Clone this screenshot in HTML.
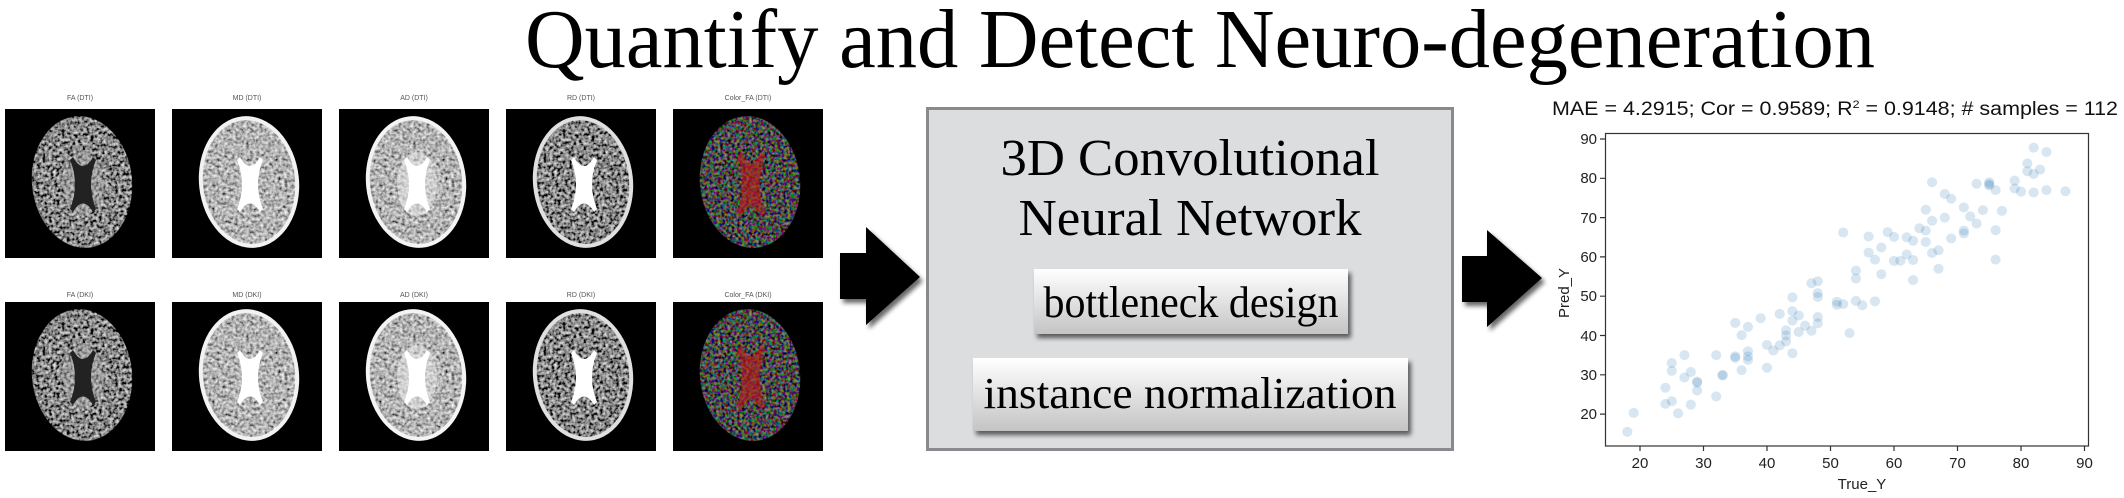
<!DOCTYPE html>
<html><head><meta charset="utf-8"><style>
html,body{margin:0;padding:0;background:#fff;width:2124px;height:498px;overflow:hidden}
svg{display:block}
</style></head><body>
<svg width="2124" height="498" viewBox="0 0 2124 498" xmlns="http://www.w3.org/2000/svg">
<defs>
<filter id="gn" x="0" y="0" width="100%" height="100%">
<feTurbulence type="fractalNoise" baseFrequency="0.32" numOctaves="2" seed="4"/>
<feColorMatrix type="saturate" values="0"/>
<feComponentTransfer><feFuncR type="linear" slope="1.8" intercept="-0.45"/><feFuncG type="linear" slope="1.8" intercept="-0.45"/><feFuncB type="linear" slope="1.8" intercept="-0.45"/><feFuncA type="linear" slope="0" intercept="1"/></feComponentTransfer>
<feComposite in2="SourceGraphic" operator="in"/>
</filter>
<filter id="gd" x="0" y="0" width="100%" height="100%">
<feTurbulence type="fractalNoise" baseFrequency="0.32" numOctaves="2" seed="9"/>
<feColorMatrix type="saturate" values="0"/>
<feComponentTransfer><feFuncR type="linear" slope="2" intercept="-0.75"/><feFuncG type="linear" slope="2" intercept="-0.75"/><feFuncB type="linear" slope="2" intercept="-0.75"/><feFuncA type="linear" slope="0" intercept="1"/></feComponentTransfer>
<feComposite in2="SourceGraphic" operator="in"/>
</filter>
<filter id="cn" x="0" y="0" width="100%" height="100%">
<feTurbulence type="fractalNoise" baseFrequency="0.35" numOctaves="2" seed="7"/>
<feComponentTransfer><feFuncR type="linear" slope="2.2" intercept="-0.9"/><feFuncG type="linear" slope="2.2" intercept="-0.9"/><feFuncB type="linear" slope="2.2" intercept="-0.9"/><feFuncA type="linear" slope="0" intercept="1"/></feComponentTransfer>
<feComposite in2="SourceGraphic" operator="in"/>
</filter>
<filter id="sh" x="-20%" y="-20%" width="150%" height="150%">
<feGaussianBlur in="SourceAlpha" stdDeviation="2.5"/><feOffset dx="3" dy="4"/>
<feComponentTransfer><feFuncA type="linear" slope="0.6"/></feComponentTransfer>
<feMerge><feMergeNode/><feMergeNode in="SourceGraphic"/></feMerge>
</filter>
<linearGradient id="btn" x1="0" y1="0" x2="0" y2="1">
<stop offset="0" stop-color="#ffffff"/><stop offset="1" stop-color="#c4c4c4"/>
</linearGradient>
<path id="vx" d="M68,48 Q78,66 88,48 L91,51 Q81,75 91,100 L88,103 Q78,86 68,103 L65,100 Q75,75 65,51 Z"/>
<g id="bFA"><rect width="150" height="149" fill="#000"/>
<ellipse cx="77" cy="73" rx="50" ry="66" fill="#888" filter="url(#gd)" transform="rotate(-6 77 73)"/>
<ellipse cx="78" cy="75" rx="20" ry="32" fill="#bbb" opacity="0.45"/>
<use href="#vx" fill="#222"/></g>
<g id="bMD"><rect width="150" height="149" fill="#000"/>
<ellipse cx="77" cy="73" rx="50" ry="66" fill="#f2f2f2" transform="rotate(-6 77 73)"/>
<ellipse cx="77" cy="73" rx="46" ry="62" fill="#777" filter="url(#gn)" transform="rotate(-6 77 73)"/>
<use href="#vx" fill="#fff"/></g>
<g id="bAD"><rect width="150" height="149" fill="#000"/>
<ellipse cx="77" cy="73" rx="50" ry="66" fill="#f4f4f4" transform="rotate(-6 77 73)"/>
<ellipse cx="77" cy="73" rx="46" ry="62" fill="#999" filter="url(#gn)" transform="rotate(-6 77 73)"/>
<ellipse cx="78" cy="75" rx="20" ry="32" fill="#eee" opacity="0.5"/>
<use href="#vx" fill="#fff"/></g>
<g id="bRD"><rect width="150" height="149" fill="#000"/>
<ellipse cx="77" cy="73" rx="50" ry="66" fill="#e0e0e0" transform="rotate(-6 77 73)"/>
<ellipse cx="77" cy="73" rx="46" ry="62" fill="#666" filter="url(#gd)" transform="rotate(-6 77 73)"/>
<use href="#vx" fill="#fff"/></g>
<g id="bCF"><rect width="150" height="149" fill="#000"/>
<ellipse cx="77" cy="73" rx="50" ry="66" fill="#888" filter="url(#cn)" transform="rotate(-6 77 73)"/>
<ellipse cx="77" cy="73" rx="50" ry="66" fill="#000" opacity="0.35" transform="rotate(-6 77 73)"/>
<path d="M68,42 Q78,66 88,42 L92,47 Q82,75 92,104 L88,108 Q78,86 68,108 L64,104 Q74,75 64,47 Z" fill="#c01818" opacity="0.6"/></g>
</defs>

<text x="525" y="67" font-family="'Liberation Serif',serif" font-size="84" textLength="1350" lengthAdjust="spacingAndGlyphs" fill="#000">Quantify and Detect Neuro-degeneration</text>

<g font-family="'Liberation Sans',sans-serif" font-size="7" fill="#555" text-anchor="middle">
<text x="80" y="100">FA (DTI)</text><text x="247" y="100">MD (DTI)</text><text x="414" y="100">AD (DTI)</text><text x="581" y="100">RD (DTI)</text><text x="748" y="100">Color_FA (DTI)</text>
<text x="80" y="297">FA (DKI)</text><text x="247" y="297">MD (DKI)</text><text x="414" y="297">AD (DKI)</text><text x="581" y="297">RD (DKI)</text><text x="748" y="297">Color_FA (DKI)</text>
</g>
<use href="#bFA" x="5" y="109"/><use href="#bMD" x="172" y="109"/><use href="#bAD" x="339" y="109"/><use href="#bRD" x="506" y="109"/><use href="#bCF" x="673" y="109"/>
<use href="#bFA" x="5" y="302"/><use href="#bMD" x="172" y="302"/><use href="#bAD" x="339" y="302"/><use href="#bRD" x="506" y="302"/><use href="#bCF" x="673" y="302"/>

<path d="M840,253 H866 V227 L920,277 L866,325 V299 H840 Z" fill="#000" filter="url(#sh)"/>
<path d="M1462,256 H1487 V230 L1542,278 L1487,327 V302 H1462 Z" fill="#000" filter="url(#sh)"/>

<rect x="927.5" y="108.5" width="525" height="341" fill="#dcdddf" stroke="#8a8a8e" stroke-width="3"/>
<g font-family="'Liberation Serif',serif" fill="#000" text-anchor="middle">
<text x="1190" y="175" font-size="52" textLength="379" lengthAdjust="spacingAndGlyphs">3D Convolutional</text>
<text x="1190" y="235" font-size="52" textLength="343" lengthAdjust="spacingAndGlyphs">Neural Network</text>
</g>
<rect x="1034" y="269" width="314" height="65" fill="url(#btn)" filter="url(#sh)"/>
<rect x="973" y="358" width="435" height="73" fill="url(#btn)" filter="url(#sh)"/>
<g font-family="'Liberation Serif',serif" fill="#000" text-anchor="middle">
<text x="1191" y="317" font-size="44" textLength="295" lengthAdjust="spacingAndGlyphs">bottleneck design</text>
<text x="1190" y="408" font-size="44" textLength="413" lengthAdjust="spacingAndGlyphs">instance normalization</text>
</g>

<text x="1552" y="115" font-family="'Liberation Sans',sans-serif" font-size="19" textLength="566" lengthAdjust="spacingAndGlyphs" fill="#111">MAE = 4.2915; Cor = 0.9589; R<tspan font-size="11" dy="-7">2</tspan><tspan dy="7"> = 0.9148; # samples = 112</tspan></text>

<rect x="1605.5" y="133.5" width="483" height="312.5" fill="#fff" stroke="#333" stroke-width="1.2"/>
<g stroke="#333" stroke-width="1.2">
<path d="M1600,414.1H1605M1600,374.8H1605M1600,335.5H1605M1600,296.2H1605M1600,256.9H1605M1600,217.6H1605M1600,178.3H1605M1600,139H1605"/>
<path d="M1640,446V451M1703.5,446V451M1767,446V451M1830.5,446V451M1894,446V451M1957.5,446V451M2021,446V451M2084.5,446V451"/>
</g>
<g font-family="'Liberation Sans',sans-serif" font-size="15" fill="#222" text-anchor="end">
<text x="1597" y="419">20</text><text x="1597" y="380">30</text><text x="1597" y="341">40</text><text x="1597" y="301">50</text><text x="1597" y="262">60</text><text x="1597" y="223">70</text><text x="1597" y="183">80</text><text x="1597" y="144">90</text>
</g>
<g font-family="'Liberation Sans',sans-serif" font-size="15" fill="#222" text-anchor="middle">
<text x="1640" y="468">20</text><text x="1703.5" y="468">30</text><text x="1767" y="468">40</text><text x="1830.5" y="468">50</text><text x="1894" y="468">60</text><text x="1957.5" y="468">70</text><text x="2021" y="468">80</text><text x="2084.5" y="468">90</text>
<text x="1862" y="489">True_Y</text>
<text transform="translate(1569,293) rotate(-90)">Pred_Y</text>
</g>

<g transform="matrix(6.35 0 0 -3.93 1513 492.7)" fill="rgba(31,119,180,0.18)" stroke="none">
<ellipse cx="18" cy="15.5" rx="0.8" ry="1.27"/><ellipse cx="19" cy="20.3" rx="0.8" ry="1.27"/><ellipse cx="24" cy="26.7" rx="0.8" ry="1.27"/><ellipse cx="24" cy="22.6" rx="0.8" ry="1.27"/><ellipse cx="25" cy="33" rx="0.8" ry="1.27"/><ellipse cx="25" cy="31" rx="0.8" ry="1.27"/><ellipse cx="25" cy="23.3" rx="0.8" ry="1.27"/><ellipse cx="26" cy="20.2" rx="0.8" ry="1.27"/><ellipse cx="27" cy="35" rx="0.8" ry="1.27"/><ellipse cx="27" cy="29.3" rx="0.8" ry="1.27"/><ellipse cx="28" cy="30.7" rx="0.8" ry="1.27"/><ellipse cx="28" cy="22.4" rx="0.8" ry="1.27"/><ellipse cx="29" cy="28.3" rx="0.8" ry="1.27"/><ellipse cx="29" cy="28" rx="0.8" ry="1.27"/><ellipse cx="29" cy="26" rx="0.8" ry="1.27"/><ellipse cx="32" cy="35" rx="0.8" ry="1.27"/><ellipse cx="32" cy="24.5" rx="0.8" ry="1.27"/><ellipse cx="33" cy="30" rx="0.8" ry="1.27"/><ellipse cx="33" cy="29.8" rx="0.8" ry="1.27"/><ellipse cx="35" cy="43.2" rx="0.8" ry="1.27"/><ellipse cx="35" cy="34.7" rx="0.8" ry="1.27"/><ellipse cx="35" cy="34.3" rx="0.8" ry="1.27"/><ellipse cx="36" cy="40.1" rx="0.8" ry="1.27"/><ellipse cx="36" cy="31.2" rx="0.8" ry="1.27"/><ellipse cx="37" cy="42.2" rx="0.8" ry="1.27"/><ellipse cx="37" cy="36" rx="0.8" ry="1.27"/><ellipse cx="37" cy="34.7" rx="0.8" ry="1.27"/><ellipse cx="37" cy="33.8" rx="0.8" ry="1.27"/><ellipse cx="39" cy="44.4" rx="0.8" ry="1.27"/><ellipse cx="40" cy="37.6" rx="0.8" ry="1.27"/><ellipse cx="40" cy="31.8" rx="0.8" ry="1.27"/><ellipse cx="41" cy="36.2" rx="0.8" ry="1.27"/><ellipse cx="42" cy="45.5" rx="0.8" ry="1.27"/><ellipse cx="42" cy="37.5" rx="0.8" ry="1.27"/><ellipse cx="43" cy="41.3" rx="0.8" ry="1.27"/><ellipse cx="43" cy="40" rx="0.8" ry="1.27"/><ellipse cx="43" cy="38.5" rx="0.8" ry="1.27"/><ellipse cx="44" cy="49.7" rx="0.8" ry="1.27"/><ellipse cx="44" cy="46.2" rx="0.8" ry="1.27"/><ellipse cx="44" cy="43.8" rx="0.8" ry="1.27"/><ellipse cx="44" cy="35.5" rx="0.8" ry="1.27"/><ellipse cx="45" cy="45.1" rx="0.8" ry="1.27"/><ellipse cx="45" cy="40.9" rx="0.8" ry="1.27"/><ellipse cx="46" cy="42.5" rx="0.8" ry="1.27"/><ellipse cx="47" cy="53.3" rx="0.8" ry="1.27"/><ellipse cx="47" cy="41.2" rx="0.8" ry="1.27"/><ellipse cx="48" cy="53.8" rx="0.8" ry="1.27"/><ellipse cx="48" cy="50.8" rx="0.8" ry="1.27"/><ellipse cx="48" cy="49.8" rx="0.8" ry="1.27"/><ellipse cx="48" cy="44.7" rx="0.8" ry="1.27"/><ellipse cx="48" cy="43.1" rx="0.8" ry="1.27"/><ellipse cx="51" cy="48.6" rx="0.8" ry="1.27"/><ellipse cx="51" cy="47.8" rx="0.8" ry="1.27"/><ellipse cx="52" cy="66.2" rx="0.8" ry="1.27"/><ellipse cx="52" cy="48" rx="0.8" ry="1.27"/><ellipse cx="53" cy="40.6" rx="0.8" ry="1.27"/><ellipse cx="54" cy="56.5" rx="0.8" ry="1.27"/><ellipse cx="54" cy="54.5" rx="0.8" ry="1.27"/><ellipse cx="54" cy="48.8" rx="0.8" ry="1.27"/><ellipse cx="55" cy="47.7" rx="0.8" ry="1.27"/><ellipse cx="56" cy="65.2" rx="0.8" ry="1.27"/><ellipse cx="56" cy="61.1" rx="0.8" ry="1.27"/><ellipse cx="57" cy="59.3" rx="0.8" ry="1.27"/><ellipse cx="57" cy="48.7" rx="0.8" ry="1.27"/><ellipse cx="58" cy="62.4" rx="0.8" ry="1.27"/><ellipse cx="58" cy="55.6" rx="0.8" ry="1.27"/><ellipse cx="59" cy="66.3" rx="0.8" ry="1.27"/><ellipse cx="60" cy="65.1" rx="0.8" ry="1.27"/><ellipse cx="60" cy="59" rx="0.8" ry="1.27"/><ellipse cx="61" cy="59" rx="0.8" ry="1.27"/><ellipse cx="62" cy="65" rx="0.8" ry="1.27"/><ellipse cx="62" cy="60.6" rx="0.8" ry="1.27"/><ellipse cx="63" cy="64.1" rx="0.8" ry="1.27"/><ellipse cx="63" cy="59.2" rx="0.8" ry="1.27"/><ellipse cx="63" cy="54.1" rx="0.8" ry="1.27"/><ellipse cx="64" cy="67.3" rx="0.8" ry="1.27"/><ellipse cx="65" cy="72" rx="0.8" ry="1.27"/><ellipse cx="65" cy="66.7" rx="0.8" ry="1.27"/><ellipse cx="65" cy="63.8" rx="0.8" ry="1.27"/><ellipse cx="66" cy="79" rx="0.8" ry="1.27"/><ellipse cx="66" cy="69.2" rx="0.8" ry="1.27"/><ellipse cx="66" cy="61" rx="0.8" ry="1.27"/><ellipse cx="67" cy="61.7" rx="0.8" ry="1.27"/><ellipse cx="67" cy="57" rx="0.8" ry="1.27"/><ellipse cx="68" cy="76" rx="0.8" ry="1.27"/><ellipse cx="68" cy="70" rx="0.8" ry="1.27"/><ellipse cx="69" cy="74.8" rx="0.8" ry="1.27"/><ellipse cx="69" cy="64.7" rx="0.8" ry="1.27"/><ellipse cx="71" cy="72.6" rx="0.8" ry="1.27"/><ellipse cx="71" cy="66.7" rx="0.8" ry="1.27"/><ellipse cx="71" cy="66" rx="0.8" ry="1.27"/><ellipse cx="72" cy="70.3" rx="0.8" ry="1.27"/><ellipse cx="73" cy="78.6" rx="0.8" ry="1.27"/><ellipse cx="73" cy="68.5" rx="0.8" ry="1.27"/><ellipse cx="74" cy="71.9" rx="0.8" ry="1.27"/><ellipse cx="75" cy="79" rx="0.8" ry="1.27"/><ellipse cx="75" cy="78.5" rx="0.8" ry="1.27"/><ellipse cx="75" cy="78.2" rx="0.8" ry="1.27"/><ellipse cx="76" cy="77" rx="0.8" ry="1.27"/><ellipse cx="76" cy="66.8" rx="0.8" ry="1.27"/><ellipse cx="76" cy="59.3" rx="0.8" ry="1.27"/><ellipse cx="77" cy="71.7" rx="0.8" ry="1.27"/><ellipse cx="79" cy="79.4" rx="0.8" ry="1.27"/><ellipse cx="79" cy="77.4" rx="0.8" ry="1.27"/><ellipse cx="80" cy="76.6" rx="0.8" ry="1.27"/><ellipse cx="81" cy="83.8" rx="0.8" ry="1.27"/><ellipse cx="81" cy="81.8" rx="0.8" ry="1.27"/><ellipse cx="82" cy="87.8" rx="0.8" ry="1.27"/><ellipse cx="82" cy="81.1" rx="0.8" ry="1.27"/><ellipse cx="82" cy="76.4" rx="0.8" ry="1.27"/><ellipse cx="83" cy="82.2" rx="0.8" ry="1.27"/><ellipse cx="84" cy="86.7" rx="0.8" ry="1.27"/><ellipse cx="84" cy="77" rx="0.8" ry="1.27"/><ellipse cx="87" cy="76.7" rx="0.8" ry="1.27"/>
</g>
</svg>
</body></html>
